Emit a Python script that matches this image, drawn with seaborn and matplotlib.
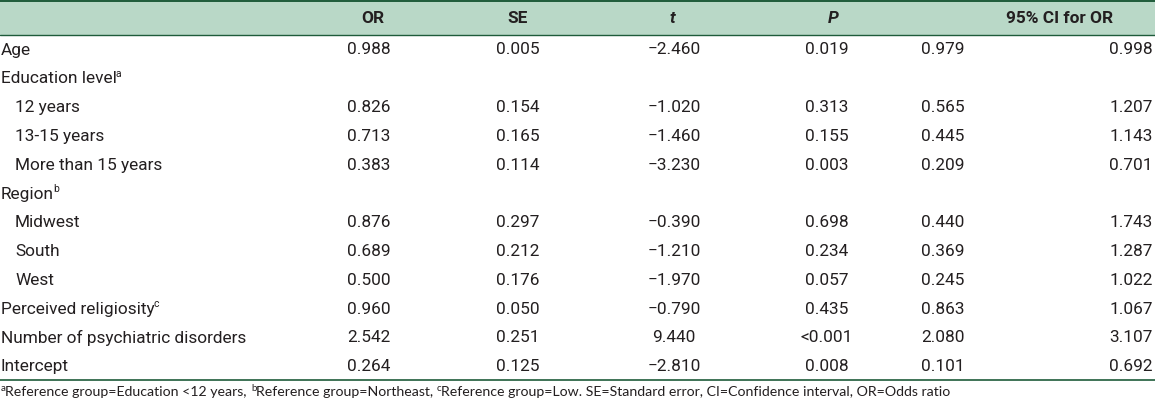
import matplotlib
matplotlib.use("Agg")
import matplotlib.pyplot as plt
import seaborn as sns
from matplotlib import font_manager

sns.set_theme(style="white")

# ---------------- data ----------------
row_labels = ["Age", "Education level", "12 years", "13-15 years", "More than 15 years",
              "Region", "Midwest", "South", "West", "Perceived religiosity",
              "Number of psychiatric disorders", "Intercept"]
row_sup = ["", "a", "", "", "", "b", "", "", "", "c", "", ""]
row_indent = [0, 0, 1, 1, 1, 0, 1, 1, 1, 0, 0, 0]
or_vals = [0.988, None, 0.826, 0.713, 0.383, None, 0.876, 0.689, 0.500, 0.960, 2.542, 0.264]
se_vals = [0.005, None, 0.154, 0.165, 0.114, None, 0.297, 0.212, 0.176, 0.050, 0.251, 0.125]
t_vals = [-2.460, None, -1.020, -1.460, -3.230, None, -0.390, -1.210, -1.970, -0.790, 9.440, -2.810]
p_vals = ["0.019", "", "0.313", "0.155", "0.003", "", "0.698", "0.234", "0.057", "0.435", "<0.001", "0.008"]
ci_low = [0.979, None, 0.565, 0.445, 0.209, None, 0.440, 0.369, 0.245, 0.863, 2.080, 0.101]
ci_high = [0.998, None, 1.207, 1.143, 0.701, None, 1.743, 1.287, 1.022, 1.067, 3.107, 0.692]
headers = ["OR", "SE", "t", "P", "95% CI for OR"]
footnote = [("a", True), ("Reference group=Education <12 years,", False),
            ("b", True), ("Reference group=Northeast,", False),
            ("c", True), ("Reference group=Low. SE=Standard error, CI=Confidence interval, OR=Odds ratio", False)]

# ---------------- style ----------------
names = {f.name for f in font_manager.fontManager.ttflist}
narrow = "Liberation Sans Narrow" if "Liberation Sans Narrow" in names else "Roboto"
body_font = [narrow, "DejaVu Sans"]
foot_font = ["Lato", "DejaVu Sans"]
plt.rcParams["font.family"] = body_font

TXT = "#231f20"
HEAD_BG = "#b9d8c7"
LINE = "#1e5b3a"
FS = 12.4

fig = plt.figure(figsize=(11.55, 4.03), dpi=100)
ax = fig.add_axes([0, 0, 1, 1])
ax.set_xlim(0, 1155)
ax.set_ylim(403, 0)
ax.axis("off")

# header band and rules
ax.axhspan(0, 34.5, color=HEAD_BG, lw=0, zorder=0)
ax.axhline(0.8, color=LINE, lw=1.4)
ax.axhline(34.6, color=LINE, lw=1.0)
ax.axhline(379.5, color=LINE, lw=1.2)

# layout
col_x = [369, 518, 674, 827, 943, 1131]
head_x = [373, 518, 672, 833, 1060]
head_style = ["normal", "normal", "italic", "italic", "normal"]
y0, dy = 50, 28.8
head_y = 18.5

for hx, h, st in zip(head_x, headers, head_style):
    ax.text(hx, head_y, h, ha="center", va="center", fontsize=FS, fontweight="bold",
            fontstyle=st, color=TXT)

def fmt(v):
    if v is None:
        return ""
    s = f"{v:.3f}"
    return s.replace("-", "\u2212")

fig.canvas.draw()
renderer = fig.canvas.get_renderer()

for i, lab in enumerate(row_labels):
    y = y0 + i * dy
    x = 1 + 14 * row_indent[i]
    t = ax.text(x, y, lab, ha="left", va="center", fontsize=FS, color=TXT)
    if row_sup[i]:
        bb = t.get_window_extent(renderer)
        ax.text(bb.x1 - 1.0, y - 5, row_sup[i], ha="left", va="center",
                fontsize=7.5, color=TXT)
    cells = [fmt(or_vals[i]), fmt(se_vals[i]), fmt(t_vals[i]), p_vals[i],
             fmt(ci_low[i]), fmt(ci_high[i])]
    for cx, c in zip(col_x, cells):
        if c:
            ax.text(cx, y, c, ha="center", va="center", fontsize=FS, color=TXT)

# footnote
fx = 1
fy = 392
for piece, is_sup in footnote:
    if is_sup:
        t = ax.text(fx, fy - 3.5, piece, ha="left", va="center", fontsize=7,
                    color=TXT, family=foot_font)
        fx = t.get_window_extent(renderer).x1 - 0.5
    else:
        t = ax.text(fx, fy, piece, ha="left", va="center", fontsize=10.2,
                    color=TXT, family=foot_font)
        fx = t.get_window_extent(renderer).x1 + 4
fig.savefig("out.png", dpi=100)
